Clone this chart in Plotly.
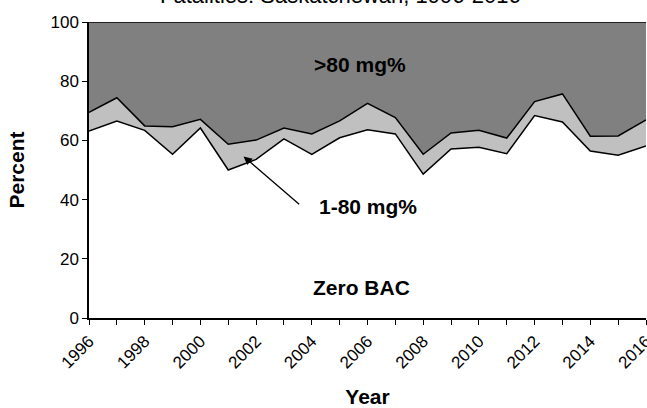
import plotly.graph_objects as go

years = list(range(1996, 2017))
zero_bac = [63.2, 66.5, 63.4, 55.3, 64.2, 50.0, 53.6, 60.5, 55.3, 60.9, 63.6,
            62.2, 48.6, 57.1, 57.7, 55.5, 68.4, 66.2, 56.4, 55.0, 58.1]
bac_1_80 = [6.3, 7.9, 1.5, 9.3, 2.9, 8.7, 6.5, 3.7, 6.9, 5.7, 8.9,
            5.5, 6.7, 5.4, 5.7, 5.3, 4.7, 9.5, 5.0, 6.5, 8.8]
bac_over_80 = [round(100 - a - b, 1) for a, b in zip(zero_bac, bac_1_80)]
tick_labels = [str(y) if y % 2 == 0 else "" for y in years]

FONT = "Liberation Sans, Arial, sans-serif"

fig = go.Figure()
fig.add_trace(go.Scatter(x=years, y=zero_bac, stackgroup="s", mode="lines",
                         line=dict(color="black", width=1.5), fillcolor="white",
                         name="Zero BAC", hoverinfo="x+y"))
fig.add_trace(go.Scatter(x=years, y=bac_1_80, stackgroup="s", mode="lines",
                         line=dict(color="black", width=1.5), fillcolor="#c0c0c0",
                         name="1-80 mg%", hoverinfo="x+y"))
fig.add_trace(go.Scatter(x=years, y=bac_over_80, stackgroup="s", mode="lines",
                         line=dict(color="black", width=1.5), fillcolor="#808080",
                         name=">80 mg%", hoverinfo="x+y"))

fig.add_annotation(x=2005.73, y=85.8, text="<b>&gt;80 mg%</b>", showarrow=False,
                   font=dict(size=21, color="black", family=FONT))
fig.add_annotation(x=2006.02, y=37.6, text="<b>1-80 mg%</b>", showarrow=False,
                   font=dict(size=21, color="black", family=FONT))
fig.add_annotation(x=2005.77, y=10.2, text="<b>Zero BAC</b>", showarrow=False,
                   font=dict(size=21, color="black", family=FONT))
fig.add_annotation(x=2001.55, y=54.6, ax=2003.6, ay=38.0, xref="x", yref="y",
                   axref="x", ayref="y", text="", showarrow=True,
                   arrowhead=2, arrowsize=1.3, arrowwidth=1.3, arrowcolor="black")
fig.add_annotation(x=(340 - 89) / 557, y=1 + 12 / 296, xref="paper", yref="paper",
                   yanchor="bottom",
                   text="Fatalities: Saskatchewan, 1996-2016", showarrow=False,
                   font=dict(size=22, color="black", family=FONT))

fig.update_layout(
    width=647, height=408,
    margin=dict(l=89, r=1, t=22, b=90, autoexpand=False),
    plot_bgcolor="white", paper_bgcolor="white",
    showlegend=False,
    font=dict(family=FONT, color="black", size=17),
    xaxis=dict(range=[1996, 2016], tickmode="array", tickvals=years, ticktext=tick_labels,
               tickangle=-45, ticks="outside", ticklen=5, tickcolor="black",
               showline=True, linecolor="black", linewidth=1.5, showgrid=False,
               zeroline=False, tickfont=dict(size=17), automargin=False,
               ticklabeloverflow="allow",
               title=dict(text="<b>Year</b>", font=dict(size=21), standoff=20)),
    yaxis=dict(range=[0, 100], tickvals=[0, 20, 40, 60, 80, 100], ticks="outside",
               ticklen=5, tickcolor="black", showline=True, linecolor="black",
               linewidth=1.5, showgrid=False, zeroline=False, tickfont=dict(size=17),
               automargin=False,
               title=dict(text="<b>Percent</b>", font=dict(size=21), standoff=20)),
)

fig.write_html("out.html", config={"displayModeBar": False},
               post_script="document.body.style.margin = '0';")
